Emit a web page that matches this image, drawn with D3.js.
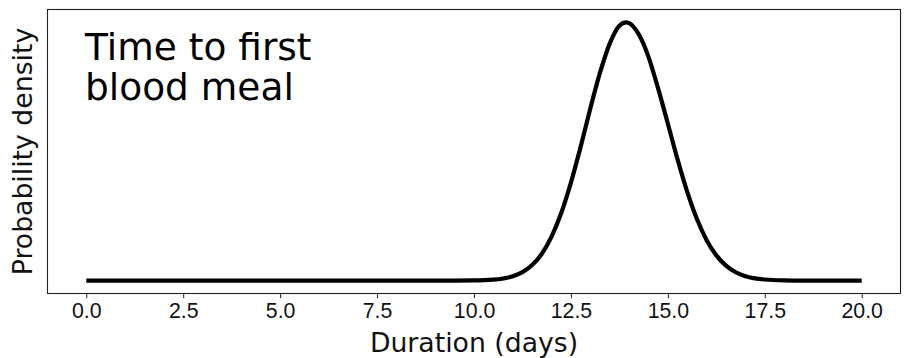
<!DOCTYPE html>
<html>
<head>
<meta charset="utf-8">
<script src="https://cdn.jsdelivr.net/npm/d3@7"></script>
<style>
  html, body { margin: 0; padding: 0; background: #fff; }
  svg { display: block; font-family: "DejaVu Sans", sans-serif; }
</style>
</head>
<body>
<div id="chart"></div>
<script>
// days since emergence
const days = [0, 9.5, 10.0, 10.5, 11.0, 11.25, 11.5, 11.75, 12.0, 12.25, 12.5, 12.75,
  13.0, 13.25, 13.5, 13.75, 13.92, 14.0, 14.25, 14.5, 14.75, 15.0, 15.25, 15.5,
  15.75, 16.0, 16.25, 16.5, 16.75, 17.0, 17.5, 18.0, 18.5, 20.0];
const density = [0, 0, 0.0002, 0.0014, 0.0065, 0.0127, 0.0234, 0.0406, 0.0664, 0.102, 0.148, 0.202,
  0.260, 0.314, 0.358, 0.385, 0.390, 0.389, 0.372, 0.338, 0.290, 0.237, 0.183, 0.134,
  0.0929, 0.0610, 0.0381, 0.0225, 0.0126, 0.0067, 0.0016, 0.0003, 0, 0];
const xTicks = [0, 2.5, 5, 7.5, 10, 12.5, 15, 17.5, 20];
const titleLines = ['Time to first', 'blood meal'];

const width = 904, height = 358;
const margin = {top: 9.5, right: 3.5, bottom: 64.5, left: 47.5};

const svg = d3.select('#chart')
  .append('svg')
  .attr('width', width)
  .attr('height', height);

const x = d3.scaleLinear()
  .domain([-1, 21])
  .range([margin.left, width - margin.right]);

const ymax = d3.max(density);
const y = d3.scaleLinear()
  .domain([-0.05 * ymax, 1.05 * ymax])
  .range([height - margin.bottom, margin.top]);

const points = days.map((d, i) => ({day: d, p: density[i]}));

// x axis
const xAxis = svg.append('g')
  .attr('transform', 'translate(0,' + (height - margin.bottom) + ')')
  .call(d3.axisBottom(x)
    .tickValues(xTicks)
    .tickFormat(d3.format('.1f'))
    .tickSize(4.7)
    .tickPadding(5));

xAxis.select('.domain').remove();
xAxis.selectAll('.tick line').attr('stroke', '#222').attr('stroke-width', 1);
xAxis.selectAll('.tick text')
  .attr('fill', '#111')
  .style('font-size', '21.3px');

// density curve
const line = d3.line()
  .x(d => x(d.day))
  .y(d => y(d.p))
  .curve(d3.curveMonotoneX);

svg.append('path')
  .datum(points)
  .attr('fill', 'none')
  .attr('stroke', '#000')
  .attr('stroke-width', 4.2)
  .attr('stroke-linejoin', 'round')
  .attr('stroke-linecap', 'butt')
  .attr('d', line);

// frame
svg.append('rect')
  .attr('x', margin.left)
  .attr('y', margin.top)
  .attr('width', width - margin.left - margin.right)
  .attr('height', height - margin.top - margin.bottom)
  .attr('fill', 'none')
  .attr('stroke', '#222')
  .attr('stroke-width', 1.1);

// labels
svg.append('text')
  .attr('x', (margin.left + width - margin.right) / 2)
  .attr('y', 352)
  .attr('text-anchor', 'middle')
  .attr('fill', '#111')
  .style('font-size', '26.7px')
  .text('Duration (days)');

svg.append('text')
  .attr('transform', 'translate(32,' + ((margin.top + height - margin.bottom) / 2) + ') rotate(-90)')
  .attr('text-anchor', 'middle')
  .attr('fill', '#111')
  .style('font-size', '26.7px')
  .text('Probability density');

svg.append('text')
  .attr('x', 85)
  .attr('y', 59.5)
  .attr('fill', '#000')
  .style('font-size', '37.5px')
  .selectAll('tspan')
  .data(titleLines)
  .enter().append('tspan')
  .attr('x', 85)
  .attr('dy', (d, i) => i === 0 ? 0 : 40)
  .text(d => d);
</script>
</body>
</html>
